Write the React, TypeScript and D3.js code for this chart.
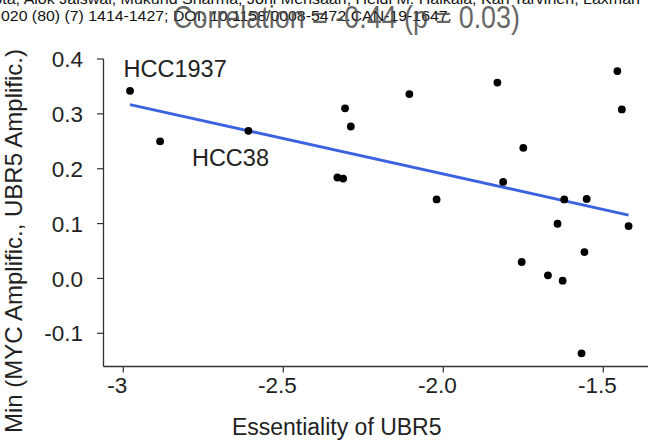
import React from "react";
import * as d3 from "d3";

const essentiality = [
  -2.979, -2.885, -2.609, -2.307, -2.289, -2.331, -2.313,
  -2.106, -1.831, -1.456, -1.442, -1.75, -1.813, -2.021, -1.622, -1.552,
  -1.643, -1.421, -1.559, -1.755, -1.673, -1.627, -1.568,
];
const minAmp = [
  0.342, 0.25, 0.269, 0.31, 0.277, 0.184, 0.182,
  0.336, 0.357, 0.378, 0.308, 0.238, 0.176, 0.144, 0.144, 0.145,
  0.0997, 0.0955, 0.048, 0.03, 0.0057, -0.004, -0.1365,
];
const trendX = [-2.979, -1.421];
const trendY = [0.317, 0.1156];
const xTicks = [-3, -2.5, -2.0, -1.5];
const xTickLabels = ["-3", "-2.5", "-2.0", "-1.5"];
const yTicks = [-0.1, 0, 0.1, 0.2, 0.3, 0.4];
const yTickLabels = ["-0.1", "0.0", "0.1", "0.2", "0.3", "0.4"];
const cellLabels = [
  { name: "HCC1937", x: -2.979, y: 0.342 },
  { name: "HCC38", x: -2.609, y: 0.269 },
];
const citeLine1 = "Gupta, Alok Jaiswal, Mukund Sharma, Joni Merisaari, Heidi M. Haikala, Kari Tarvinen, Laxman";
const citeLine2 = "020 (80) (7) 1414-1427; DOI: 10.1158/0008-5472.CAN-19-1647.";
const title = "Correlation = -0.44 (p = 0.03)";
const xTitle = "Essentiality of UBR5";
const yTitle = "Min (MYC Amplific., UBR5 Amplific.)";

const FONT = "'Liberation Sans', Arial, Helvetica, sans-serif";

export default function App() {
  const W = 648, H = 441;
  const x = d3.scaleLinear().domain([-3, -1.5]).range([123.3, 603.3]);
  const y = d3.scaleLinear().domain([-0.1, 0.4]).range([333.3, 59]);
  const axisLeftX = 103.5;
  const axisBottomY = 366.5;
  const line = d3.line<number>().x((d) => x(d)).y((_, i) => y(trendY[i]));
  const labelOffsets = [
    { dx: -6.5, dy: -14 },
    { dx: -56.5, dy: 35 },
  ];
  return (
    <svg
      width={W}
      height={H}
      style={{ position: "absolute", left: 0, top: 0, display: "block", background: "#fff" }}
      fontFamily={FONT}
    >
      <rect x={0} y={0} width={W} height={H} fill="#fff" />
      {/* citation header */}
      <text x={-28} y={3.5} fontSize={15} fill="#111" textLength={668} lengthAdjust="spacingAndGlyphs">{citeLine1}</text>
      <text x={1} y={20.7} fontSize={15} fill="#111" textLength={451} lengthAdjust="spacingAndGlyphs">{citeLine2}</text>
      <text x={173} y={28} fontSize={31} fill="#4a4a4a" fillOpacity={0.85} textLength={347} lengthAdjust="spacingAndGlyphs">{title}</text>

      {/* axes */}
      <line x1={axisLeftX} x2={axisLeftX} y1={y(0.4)} y2={axisBottomY} stroke="#333" strokeWidth={1.3} />
      <line x1={axisLeftX} x2={W} y1={axisBottomY} y2={axisBottomY} stroke="#333" strokeWidth={1.3} />
      {yTicks.map((t, i) => (
        <g key={"y" + i}>
          <line x1={axisLeftX - 6.5} x2={axisLeftX} y1={y(t)} y2={y(t)} stroke="#333" strokeWidth={1.2} />
          <text x={83} y={y(t)} dy="0.36em" fontSize={22.5} fill="#222" textAnchor="end">{yTickLabels[i]}</text>
        </g>
      ))}
      {xTicks.map((t, i) => (
        <g key={"x" + i}>
          <line x1={x(t)} x2={x(t)} y1={axisBottomY} y2={axisBottomY + 6} stroke="#333" strokeWidth={1.2} />
          <text x={x(t) - 6} y={393.3} fontSize={22.5} fill="#222" textAnchor="middle">{xTickLabels[i]}</text>
        </g>
      ))}
      <text x={336.7} y={435} fontSize={23} fill="#222" textAnchor="middle">{xTitle}</text>
      <text transform={`translate(22,241) rotate(-90)`} fontSize={24} fill="#222" textAnchor="middle">{yTitle}</text>

      {/* trend line */}
      <path d={line(trendX) || ""} fill="none" stroke="#3b63e0" strokeWidth={2.8} />

      {/* points */}
      {essentiality.map((ev, i) => (
        <circle key={"p" + i} cx={x(ev)} cy={y(minAmp[i])} r={3.9} fill="#000" />
      ))}

      {/* labels */}
      {cellLabels.map((l, i) => (
        <text key={l.name} x={x(l.x) + labelOffsets[i].dx} y={y(l.y) + labelOffsets[i].dy} fontSize={23.5} fill="#222">{l.name}</text>
      ))}
    </svg>
  );
}
